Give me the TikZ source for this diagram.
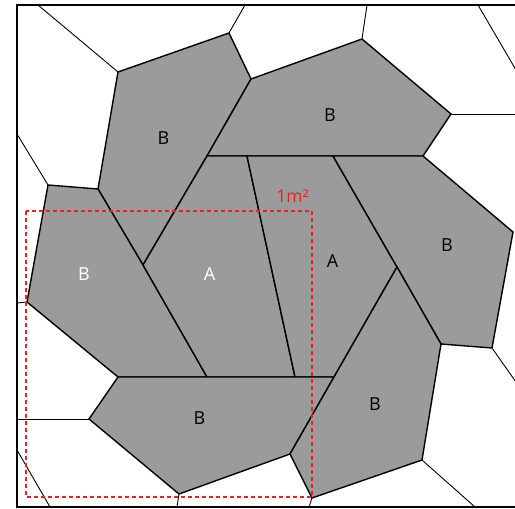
\documentclass[tikz,border=0pt]{standalone}
\usepackage{fontspec}
\setmainfont{Open Sans}
\definecolor{cellgray}{RGB}{155,155,155}
\definecolor{dashred}{RGB}{240,30,30}
\tikzset{
  cell/.style={fill=cellgray,draw=black,line width=1.4pt,line join=miter},
  thin/.style={draw=black,line width=0.9pt},
  lab/.style={font=\fontsize{18}{20}\selectfont,text=black,inner sep=0pt},
  wlab/.style={lab,text=white},
}
\begin{document}
\begin{tikzpicture}[x=1pt,y=-1pt]
\useasboundingbox (0,0) rectangle (515,509);
\fill[white] (0,0) rectangle (515,509);
% vertices
\coordinate (P1) at (118,72);
\coordinate (P2) at (229,33);
\coordinate (P3) at (251,79);
\coordinate (P4) at (98,189);
\coordinate (P5) at (48,185);
\coordinate (P6) at (143,265);
\coordinate (P7) at (207,156);
\coordinate (Q1) at (247,156);
\coordinate (Q2) at (333,156);
\coordinate (P8) at (423,156);
\coordinate (P9) at (397,267);
\coordinate (P10) at (362,39);
\coordinate (P11) at (451,114);
\coordinate (P12) at (513,232);
\coordinate (P13) at (492,348);
\coordinate (P14) at (441,344);
\coordinate (P15) at (422,460);
\coordinate (P16) at (312,498);
\coordinate (P17) at (290,454);
\coordinate (P18) at (334,377);
\coordinate (P19) at (118,377);
\coordinate (P20) at (207,377);
\coordinate (Q3) at (295,377);
\coordinate (P21) at (27,302);
\coordinate (P22) at (89,419);
\coordinate (P23) at (179,494);
% white-cell edges
\draw[thin] (38,5) -- (P1);
\draw[thin] (P2) -- (245,5);
\draw[thin] (P10) -- (367,5);
\draw[thin] (478,5) -- (516,70);
\draw[thin] (P11) -- (516,114);
\draw[thin] (P5) -- (17,134);
\draw[thin] (P21) -- (17,303);
\draw[thin] (P22) -- (17,419);
\draw[thin] (17,450) -- (50,507);
\draw[thin] (P23) -- (177,507);
\draw[thin] (P16) -- (309,507);
\draw[thin] (P15) -- (475,507);
\draw[thin] (P13) -- (516,382);
% grey cells
\draw[cell] (P1) -- (P2) -- (P3) -- (P7) -- (P6) -- (P4) -- cycle;
\draw[cell] (P3) -- (P10) -- (P11) -- (P8) -- (Q2) -- (Q1) -- (P7) -- cycle;
\draw[cell] (P5) -- (P4) -- (P6) -- (P20) -- (P19) -- (P21) -- cycle;
\draw[cell] (P7) -- (Q1) -- (Q3) -- (P20) -- (P6) -- cycle;
\draw[cell] (Q1) -- (Q2) -- (P9) -- (P18) -- (Q3) -- cycle;
\draw[cell] (Q2) -- (P8) -- (P12) -- (P13) -- (P14) -- (P9) -- cycle;
\draw[cell] (P19) -- (P20) -- (Q3) -- (P18) -- (P17) -- (P23) -- (P22) -- cycle;
\draw[cell] (P18) -- (P9) -- (P14) -- (P15) -- (P16) -- (P17) -- cycle;
% frame
\draw[black,line width=1.2pt] (517,5) -- (17,5) -- (17,507) -- (517,507);
% red square
\draw[dashred,line width=1.3pt,dash pattern=on 4pt off 3pt] (26,211) rectangle (312,497);
\node[font=\fontsize{17.5}{19}\selectfont,text=dashred,inner sep=0pt] (unit) at (292.5,196) {1m²};
% labels
\node[lab] (b1) at (163.5,138.5) {B};
\node[lab] (b2) at (330,115) {B};
\node[wlab] (b3) at (84,274) {B};
\node[wlab] (a1) at (209.5,274) {A};
\node[lab] (a2) at (332.5,261) {A};
\node[lab] (b4) at (447,245) {B};
\node[lab] (b5) at (199.5,418.5) {B};
\node[lab] (b6) at (375,404.5) {B};
\end{tikzpicture}
\end{document}
